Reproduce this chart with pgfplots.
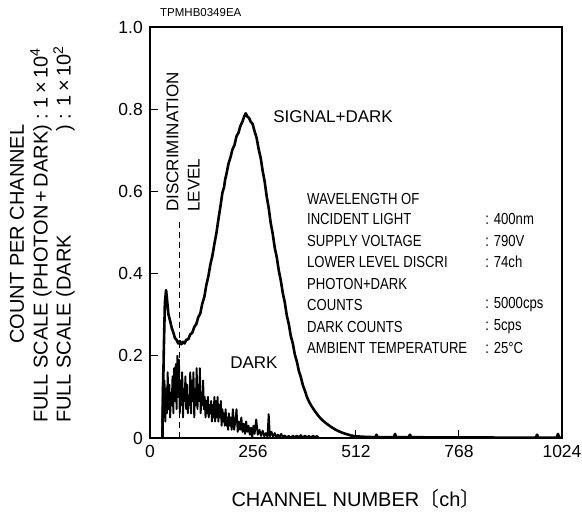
\documentclass[border=0pt]{standalone}
\usepackage{pgfplots}
\pgfplotsset{compat=1.18}
\usepackage{fontspec}
\setmainfont{Liberation Sans}
\newfontfamily\narrow[FakeStretch=0.82]{Liberation Sans}
\newfontfamily\cjk{Noto Sans CJK JP}

\begin{document}
\begin{tikzpicture}
\useasboundingbox (-150pt,-76pt) rectangle (432pt,438pt);
\begin{axis}[
  at={(0,0)}, anchor=south west,
  scale only axis, width=412pt, height=411pt,
  xmin=0, xmax=1024, ymin=0, ymax=1,
  xtick={0,256,512,768,1024}, xticklabels={0,256,512,768,1024},
  ytick={0,0.2,0.4,0.6,0.8,1.0}, yticklabels={0,0.2,0.4,0.6,0.8,1.0},
  xtick pos=bottom, ytick pos=left,
  tick align=inside, major tick length=8pt,
  tick style={black, line width=1pt},
  axis line style={line width=2pt},
  axis background/.style={draw=black, line width=2pt},
  /pgf/number format/assume math mode=true,
  ticklabel style={font=\fontsize{17.5}{19}\selectfont, inner sep=0pt},
  xticklabel style={yshift=-7pt},
  yticklabel style={xshift=-7pt},
]
% photon + dark
\addplot[black, line width=2.6pt, line join=round] coordinates {
(31,0) (34,0.20) (37,0.33) (40,0.36) (43,0.33) (46,0.30) (50,0.285)
(54,0.268) (58,0.257) (62,0.243) (66,0.239) (70,0.23) (74,0.236)
(78,0.228) (82,0.234) (86,0.23) (90,0.239) (95,0.24) (100,0.252)
(105,0.256) (110,0.27) (115,0.277) (120,0.294) (125,0.303) (130,0.327)
(135,0.343) (140,0.372) (145,0.393) (150,0.422) (155,0.443) (160,0.472)
(165,0.498) (170,0.532) (175,0.563) (180,0.597) (184,0.61) (187,0.63)
(190,0.642) (195,0.667) (200,0.683) (205,0.702) (210,0.713) (215,0.734)
(220,0.743) (225,0.76) (230,0.77) (234,0.782) (238,0.79) (242,0.782)
(246,0.779) (250,0.77) (255,0.764) (260,0.746) (265,0.73) (270,0.703)
(275,0.682) (280,0.65) (285,0.624) (290,0.588) (295,0.56) (300,0.523)
(305,0.497) (310,0.463) (315,0.44) (320,0.408) (325,0.384) (330,0.353)
(335,0.33) (340,0.298) (345,0.277) (350,0.248) (355,0.23) (360,0.203)
(365,0.186) (370,0.163) (375,0.148) (380,0.128) (385,0.115) (390,0.10)
(395,0.089) (400,0.08) (410,0.065) (420,0.052) (430,0.042) (440,0.034)
(450,0.027) (460,0.021) (470,0.016) (480,0.012) (490,0.009) (500,0.006)
(512,0.004) (530,0.003) (560,0.002) (563,0.008) (566,0.002) (606,0.002)
(609,0.01) (612,0.002) (643,0.002) (646,0.008) (649,0.002) (700,0.0015)
(800,0.0012) (900,0.001) (959,0.001) (962,0.008) (965,0.001) (1011,0.001)
(1014,0.01) (1017,0.001) (1024,0.001)
};
% dark
\addplot[black, line width=1.9pt, line join=round] coordinates {
(30,0) (32,0.16) (34,0.05) (36,0.14) (38,0.04) (40,0.12) (42,0.06)
(44,0.16) (46,0.07) (48,0.13) (50,0.05) (52,0.11) (54,0.08) (56,0.15)
(58,0.06) (60,0.17) (62,0.09) (64,0.18) (66,0.07) (68,0.20) (70,0.10)
(72,0.19) (74,0.06) (76,0.14) (78,0.08) (80,0.16) (82,0.05) (84,0.12)
(86,0.09) (88,0.15) (90,0.07) (92,0.13) (94,0.06) (96,0.10) (98,0.08)
(100,0.16) (102,0.06) (104,0.14) (106,0.09) (108,0.16) (110,0.05)
(112,0.12) (114,0.08) (116,0.17) (118,0.07) (120,0.13) (122,0.09)
(124,0.17) (126,0.06) (128,0.11) (130,0.08) (132,0.14) (134,0.07)
(136,0.10) (138,0.05) (140,0.09) (142,0.06) (144,0.10) (146,0.05)
(148,0.08) (150,0.06) (152,0.09) (154,0.04) (156,0.08) (158,0.05)
(160,0.10) (162,0.04) (164,0.09) (166,0.05) (168,0.10) (170,0.04)
(172,0.08) (174,0.05) (176,0.09) (178,0.03) (180,0.07) (182,0.04)
(184,0.06) (186,0.03) (188,0.07) (190,0.03) (192,0.05) (194,0.02)
(196,0.06) (198,0.03) (200,0.05) (203,0.02) (206,0.07) (209,0.02)
(212,0.04) (215,0.07) (218,0.015) (221,0.04) (224,0.02) (227,0.05)
(230,0.015) (233,0.035) (236,0.01) (239,0.04) (242,0.015) (245,0.03)
(248,0.008) (251,0.025) (254,0.0) (257,0.03) (260,0.01) (264,0.045)
(268,0.008) (272,0.02) (276,0.005) (280,0.018) (284,0.004) (288,0.012)
(292,0.003) (295,0.058) (298,0.004) (302,0.015) (306,0.003) (310,0.012)
(314,0.002) (318,0.008) (322,0.002) (326,0.01) (330,0.003) (335,0.006)
(340,0.002) (345,0.005) (350,0.001) (355,0.006) (360,0.002) (365,0.006)
(370,0.002) (375,0.007) (380,0.001) (385,0.006) (390,0.002) (395,0.005)
(400,0.001) (405,0.006) (410,0.002) (415,0.005) (420,0)
};
% discrimination level
\addplot[black, line width=0.8pt, dash pattern=on 6pt off 4pt] coordinates {(73,0) (73,0.525)};

\node[rotate=90, anchor=west, inner sep=0pt, font=\fontsize{17}{20}\selectfont] at (axis cs:56,0.55) {DISCRIMINATION};
\node[rotate=90, anchor=west, inner sep=0pt, font=\fontsize{17}{20}\selectfont] at (axis cs:109,0.55) {LEVEL};
\node[anchor=west, inner sep=0pt, font=\fontsize{17}{20}\selectfont] at (axis cs:306,0.783) {SIGNAL+DARK};
\node[anchor=west, inner sep=0pt, font=\fontsize{17}{20}\selectfont] at (axis cs:199,0.1825) {DARK};

\begin{scope}[every node/.style={anchor=west, inner sep=0pt, font=\narrow\fontsize{16}{18}\selectfont}]
\node at (axis cs:390,0.5815) {WAVELENGTH OF};
\node at (axis cs:390,0.532) {INCIDENT LIGHT};
\node at (axis cs:390,0.479) {SUPPLY VOLTAGE};
\node at (axis cs:390,0.429) {LOWER LEVEL DISCRI};
\node at (axis cs:390,0.374) {PHOTON+DARK};
\node at (axis cs:390,0.3236) {COUNTS};
\node at (axis cs:390,0.2708) {DARK COUNTS};
\node at (axis cs:390,0.2182) {AMBIENT TEMPERATURE};
\node at (axis cs:833,0.532) {: 400nm};
\node at (axis cs:833,0.479) {: 790V};
\node at (axis cs:833,0.429) {: 74ch};
\node at (axis cs:833,0.3236) {: 5000cps};
\node at (axis cs:833,0.2708) {: 5cps};
\node at (axis cs:833,0.2182) {: 25°C};
\end{scope}
\end{axis}

\node[anchor=west, inner sep=0pt, font=\fontsize{11.5}{13}\selectfont] at (10pt,425pt) {TPMHB0349EA};
\node[anchor=base, inner sep=0pt, font=\fontsize{20}{24}\selectfont] at (206pt,-69pt) {CHANNEL NUMBER{\cjk 〔}ch{\cjk 〕}};
\node[rotate=90, inner sep=0pt, font=\fontsize{20}{24}\selectfont] at (-133pt,204pt) {COUNT PER CHANNEL};
\node[rotate=90, anchor=west, inner sep=0pt, font=\fontsize{20}{24}\selectfont] at (-109pt,15pt) {FULL SCALE (PHOTON\,+\,DARK) : 1\,×\,10\textsuperscript{4}};
\node[rotate=90, anchor=west, inner sep=0pt, font=\fontsize{20}{24}\selectfont] at (-86pt,15pt) {\rlap{FULL SCALE (DARK}\phantom{FULL SCALE (PHOTON\,+\,DARK}) : 1\,×\,10\textsuperscript{2}};
\end{tikzpicture}
\end{document}
